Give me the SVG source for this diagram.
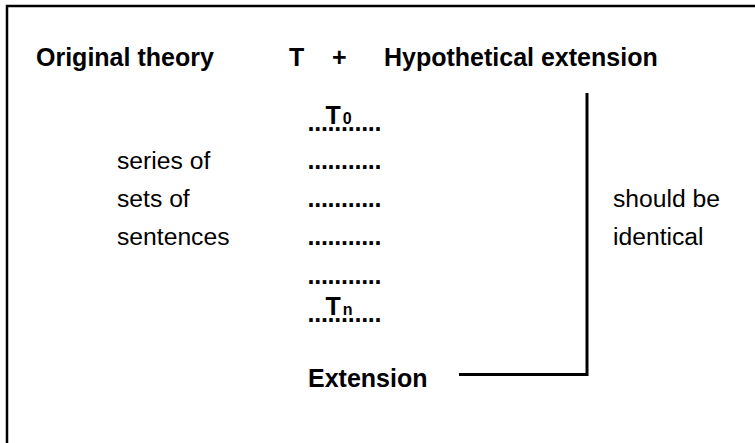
<svg xmlns="http://www.w3.org/2000/svg" width="755" height="443" viewBox="0 0 755 443">
<style>
text{font-family:"Liberation Sans",Arial,sans-serif;fill:#000}
.b{font-weight:bold;font-size:25px}
.r{font-size:24.7px}
.sub{font-weight:bold;font-size:16px}
.dots{font-weight:bold;font-size:25px}
.ln{stroke:#000;fill:none}
</style>
<rect width="755" height="443" fill="#fff"/>
<path class="ln" d="M7,443 V6 H755" stroke-width="2.5"/>
<g id="title">
<text class="b" x="36" y="66">Original theory</text>
<text class="b" x="289" y="66">T</text>
<text class="b" x="332" y="66">+</text>
<text class="b" x="384" y="66">Hypothetical extension</text>
</g>
<g id="left-label">
<text class="r" x="117" y="169">series of</text>
<text class="r" x="117" y="207">sets of</text>
<text class="r" x="117" y="245">sentences</text>
</g>
<g id="sequence">
<text class="b" x="325.5" y="124">T<tspan class="sub" dx="2">0</tspan></text>
<text class="dots" x="307.5" y="131" textLength="74" lengthAdjust="spacing">...........</text>
<text class="dots" x="307.5" y="169" textLength="74" lengthAdjust="spacing">...........</text>
<text class="dots" x="307.5" y="207" textLength="74" lengthAdjust="spacing">...........</text>
<text class="dots" x="307.5" y="245" textLength="74" lengthAdjust="spacing">...........</text>
<text class="dots" x="307.5" y="284" textLength="74" lengthAdjust="spacing">...........</text>
<text class="b" x="325.5" y="315">T<tspan class="sub" dx="2">n</tspan></text>
<text class="dots" x="307.5" y="322" textLength="74" lengthAdjust="spacing">...........</text>
</g>
<g id="extension">
<text class="b" x="308" y="387">Extension</text>
</g>
<g id="right-label">
<text class="r" x="613" y="207">should be</text>
<text class="r" x="613" y="245">identical</text>
</g>
<g id="connectors">
<path class="ln" d="M459,374.5 H587 V93" stroke-width="3"/>
</g>
</svg>
